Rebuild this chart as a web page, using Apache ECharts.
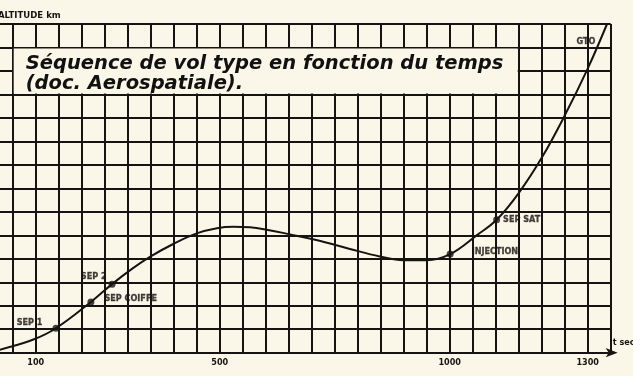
<!DOCTYPE html>
<html>
<head>
<meta charset="utf-8">
<script src="https://cdn.jsdelivr.net/npm/echarts@6/dist/echarts.min.js"></script>
<style>
  html, body { margin: 0; padding: 0; background: #fbf7e8; }
  #chart { width: 633px; height: 376px; }
</style>
</head>
<body>
<div id="chart"></div>
<script>
// Flight profile: altitude (km) against time since lift-off (s)
const timeS = [0, 22, 95, 144, 220, 266, 310, 350, 400, 450, 494, 530, 566, 602, 653, 710, 783, 848, 899, 950, 1001, 1060, 1102, 1150, 1200, 1250, 1300, 1342];
const altitudeKm = [0, 6, 28, 52, 108, 146, 179, 205, 232, 254, 265, 268, 267, 262, 252, 240, 221, 205, 197, 197, 210, 251, 283, 340, 415, 505, 605, 700];

// Flight events marked on the trajectory
const eventNames = ['SEP 1', 'SEP COIFFE', 'SEP 2', 'INJECTION', 'SEP SAT'];
const eventTimes = [144, 220, 266, 1001, 1102];
const eventAlts = [52, 108, 146, 210, 283];

// Orbit annotation near the top of the curve
const orbitNames = ['GTO'];
const orbitTimes = [1296];
const orbitAlts = [662];

// Labelled ticks on the time axis
const xTickLabels = [100, 500, 1000, 1300];

const titleLines = ['Séquence de vol type en fonction du temps', '(doc. Aerospatiale).'];

const INK = '#161412';
const PAPER = '#fbf7e8';
const NARROW = "'Liberation Sans Narrow', 'DejaVu Sans Condensed', sans-serif";

// label placement for each event tag
const eventLabelPlacement = {
  'SEP 1':      { position: 'left',  distance: 10, offset: [0, -6] },
  'SEP COIFFE': { position: 'right', distance: 10, offset: [0, -3] },
  'SEP 2':      { position: 'left',  distance: 2,  offset: [0, -7] },
  'INJECTION':  { position: 'right', distance: 18, offset: [0, -2] },
  'SEP SAT':    { position: 'right', distance: 3,  offset: [0, 0] }
};

// Page layout: the ruled area runs off the left edge of the sheet.
const W = 633;
const GRID_RIGHT = 22.3;
const FIRST_RULE = 12.7;           // pixel position of the 50 s rule
const T_FIRST = 50, T_MAX = 1350;
const secPerPx = (T_MAX - T_FIRST) / (W - GRID_RIGHT - FIRST_RULE);
const T_EDGE = T_FIRST - FIRST_RULE * secPerPx;   // time at the sheet's left edge

const chart = echarts.init(document.getElementById('chart'), null, { renderer: 'canvas' });

const smallText = {
  color: INK, fontFamily: NARROW, fontWeight: 'bold', fontSize: 9,
  textBorderColor: INK, textBorderWidth: 0.3
};

chart.setOption({
  backgroundColor: PAPER,
  animation: false,
  // grid 0: full-width altitude rules and the trajectory,
  // grid 1: time axis ruled every 50 s
  grid: [
    { left: 0, right: GRID_RIGHT, top: 24, bottom: 23.3 },
    { left: FIRST_RULE, right: GRID_RIGHT, top: 24, bottom: 23.3 }
  ],
  xAxis: [
    { gridIndex: 0, type: 'value', min: T_EDGE, max: T_MAX, show: false },
    {
      gridIndex: 1, type: 'value', min: T_FIRST, max: T_MAX, interval: 50,
      axisLine: {
        show: true, lineStyle: { color: INK, width: 2 },
        symbol: ['none', 'arrow'], symbolSize: [7, 12], symbolOffset: [0, 7]
      },
      axisTick: { show: false },
      axisLabel: {
        show: true, margin: 5, color: INK, fontFamily: NARROW, fontWeight: 'bold', fontSize: 9,
        formatter: v => (xTickLabels.indexOf(v) >= 0 ? String(v) : '')
      },
      splitLine: { show: true, lineStyle: { color: INK, width: 2 } }
    }
  ],
  yAxis: [
    {
      gridIndex: 0, type: 'value', min: 0, max: 700, interval: 50,
      axisLine: { show: false }, axisTick: { show: false }, axisLabel: { show: false },
      splitLine: { show: true, lineStyle: { color: INK, width: 1.8 } }
    },
    { gridIndex: 1, type: 'value', min: 0, max: 700, interval: 50, show: false }
  ],
  series: [
    {
      type: 'line', xAxisIndex: 0, yAxisIndex: 0,
      data: timeS.map((t, i) => [t, altitudeKm[i]]),
      smooth: 0.4,
      symbol: 'none',
      lineStyle: { color: INK, width: 2 },
      z: 3
    },
    {
      type: 'scatter', xAxisIndex: 0, yAxisIndex: 0,
      symbol: 'circle', symbolSize: 7,
      itemStyle: { color: INK },
      data: eventNames.map((n, i) => ({
        name: n,
        value: [eventTimes[i], eventAlts[i]],
        label: Object.assign({ show: true, formatter: '{b}' }, smallText, eventLabelPlacement[n])
      })),
      z: 4
    },
    {
      type: 'scatter', xAxisIndex: 0, yAxisIndex: 0,
      symbolSize: 0,
      data: orbitNames.map((n, i) => ({ name: n, value: [orbitTimes[i], orbitAlts[i]] })),
      label: Object.assign({ show: true, position: 'inside', formatter: '{b}' }, smallText),
      z: 4
    }
  ]
});

// Title panel, sized to whole grid cells, and the axis captions
const boxTL = chart.convertToPixel({ xAxisIndex: 1, yAxisIndex: 1 }, [50, 650]);
const boxBR = chart.convertToPixel({ xAxisIndex: 1, yAxisIndex: 1 }, [1150, 550]);
const axisEnd = chart.convertToPixel({ xAxisIndex: 1, yAxisIndex: 1 }, [1350, 0]);
const titleFont = { fontFamily: "'DejaVu Sans', sans-serif", fontWeight: 'bold', fontStyle: 'italic', fontSize: 19.5, fill: '#111' };

chart.setOption({
  graphic: [
    {
      type: 'rect', z: 50,
      shape: { x: boxTL[0] + 1, y: boxTL[1] + 1, width: boxBR[0] - boxTL[0] - 2, height: boxBR[1] - boxTL[1] - 2 },
      style: { fill: PAPER }
    },
    {
      type: 'text', z: 51, x: boxTL[0] + 13, y: boxTL[1] + 16,
      style: Object.assign({ text: titleLines[0], verticalAlign: 'middle', align: 'left' }, titleFont)
    },
    {
      type: 'text', z: 51, x: boxTL[0] + 13, y: boxTL[1] + 36,
      style: Object.assign({ text: titleLines[1], verticalAlign: 'middle', align: 'left' }, titleFont)
    },
    {
      type: 'text', z: 51, x: -2, y: 15.5,
      style: { text: 'ALTITUDE km', fontFamily: NARROW, fontWeight: 'bold', fontSize: 9.5, fill: INK, verticalAlign: 'middle', align: 'left' }
    },
    {
      type: 'text', z: 51, x: axisEnd[0] + 2, y: axisEnd[1] - 10,
      style: { text: 't sec', fontFamily: NARROW, fontWeight: 'bold', fontSize: 9, fill: INK, verticalAlign: 'middle', align: 'left' }
    }
  ]
});
</script>
</body>
</html>
